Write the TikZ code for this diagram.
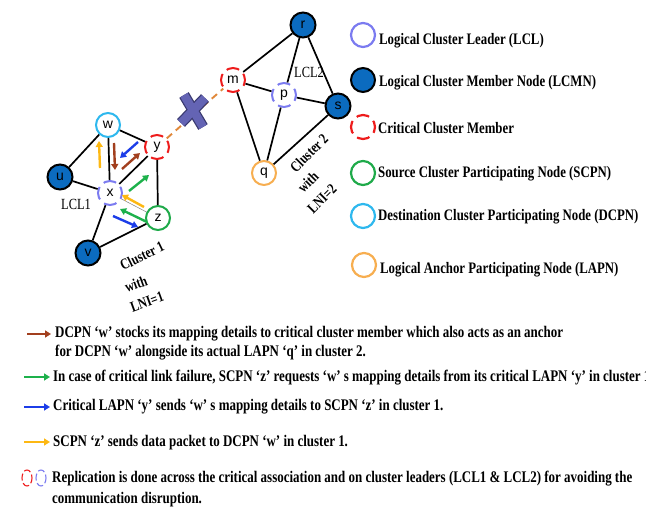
\documentclass[tikz,border=0pt]{standalone}
\usepackage{fontspec}
\setmainfont{Liberation Serif}
\newfontfamily\condb{Liberation Serif}[FakeStretch=0.8]
\newfontfamily\nodefont{Liberation Sans}
\usetikzlibrary{arrows.meta,shapes.geometric}
\definecolor{cLCL}{HTML}{7B7BF0}
\definecolor{cLCMN}{HTML}{0B6BBF}
\definecolor{cCrit}{HTML}{EE1C1C}
\definecolor{cSCPN}{HTML}{1FAA4A}
\definecolor{cDCPN}{HTML}{2EB8EE}
\definecolor{cLAPN}{HTML}{F7AE50}
\definecolor{aBrown}{HTML}{A23F1E}
\definecolor{aGreen}{HTML}{1DB14B}
\definecolor{aBlue}{HTML}{1C3DE8}
\definecolor{aYellow}{HTML}{FDB813}
\definecolor{cDash}{HTML}{E0883A}
\definecolor{xFill}{HTML}{6464B4}
\definecolor{xDark}{HTML}{3A3A70}
\tikzset{
  nd/.style={circle, minimum size=24pt, inner sep=0pt, line width=2pt, fill=white, font=\nodefont\fontsize{14}{14}\selectfont},
  lcl/.style={nd, draw=cLCL, dash pattern=on 13pt off 5.85pt, dash phase=6.5pt},
  lcmn/.style={nd, draw=black, fill=cLCMN, minimum size=25pt},
  crit/.style={nd, draw=cCrit, dash pattern=on 13pt off 5.85pt, dash phase=6.5pt},
  scpn/.style={nd, draw=cSCPN},
  dcpn/.style={nd, draw=cDCPN},
  lapn/.style={nd, draw=cLAPN},
  edge/.style={line width=1.7pt, black},
  arr/.style={line width=2.4pt, -{Triangle[length=6pt,width=7pt]}},
  lgtext/.style={anchor=west, inner sep=0pt, font=\condb\bfseries\fontsize{16}{16}\selectfont},
  bttext/.style={anchor=west, inner sep=0pt, font=\condb\bfseries\fontsize{16.2}{16.2}\selectfont},
  clab/.style={inner sep=0pt, font=\condb\bfseries\fontsize{15}{15}\selectfont},
  lcllab/.style={inner sep=0pt, font=\condb\fontsize{15.5}{15.5}\selectfont},
  repl/.style={line width=1.1pt, ellipse, minimum width=10pt, minimum height=16pt, inner sep=0pt, dash pattern=on 7pt off 2.8pt, dash phase=3.5pt},
}
\begin{document}
\begin{tikzpicture}[x=1pt, y=-1pt]
\useasboundingbox (0,0) rectangle (646,508);
% cluster 1 nodes
\node[dcpn] (w) at (108,125) {w};
\node[lcmn] (u) at (60,177) {u};
\node[crit] (y) at (157,147) {y};
\node[lcl] (x) at (110,193) {x};
\node[scpn] (z) at (158,218) {z};
\node[lcmn] (v) at (88,253) {v};
% cluster 2 nodes
\node[crit] (m) at (233,80) {m};
\node[lcmn] (r) at (303,25) {r};
\node[lcl] (p) at (284,95) {p};
\node[lcmn] (s) at (338,106) {s};
\node[lapn] (q) at (264,173) {q};
% edges cluster 1
\draw[edge] (w) -- (u);
\draw[edge] (w) -- (y);
\draw[edge] (w) -- (x);
\draw[edge] (u) -- (x);
\draw[edge] (x) -- (y);
\draw[edge] (x) -- (v);
\draw[edge] (y) -- (z);
\draw[edge] (v) -- (z);
\draw[line width=0.5pt, gray] (x) -- (z);
% edges cluster 2
\draw[edge] (m) -- (r);
\draw[edge] (m) -- (p);
\draw[edge] (m) -- (q);
\draw[edge] (r) -- (p);
\draw[edge] (r) -- (s);
\draw[edge] (p) -- (s);
\draw[edge] (p) -- (q);
\draw[edge] (q) -- (s);
% critical link
\draw[line width=1.9pt, cDash, dash pattern=on 7pt off 5pt] (y) -- (m);
% X mark
\coordinate (xa1) at (184,95);
\coordinate (xa2) at (203,127);
\coordinate (xb1) at (205,98);
\coordinate (xb2) at (181,123);
\draw[line width=11pt, xDark] (xa1) -- (xa2);
\draw[line width=11pt, xDark] (xb1) -- (xb2);
\draw[line width=8.5pt, xFill] (xa1) -- (xa2);
\draw[line width=8.5pt, xFill] (xb1) -- (xb2);
% arrows cluster 1
\coordinate (a1s) at (100,168); \coordinate (a1e) at (99,141);
\coordinate (a2s) at (114,143); \coordinate (a2e) at (115,170);
\coordinate (a3s) at (138,142); \coordinate (a3e) at (120,158);
\coordinate (a4s) at (122,169); \coordinate (a4e) at (140,153);
\coordinate (a5s) at (129,191); \coordinate (a5e) at (149,175);
\coordinate (a6s) at (144,207); \coordinate (a6e) at (122,195);
\coordinate (a7s) at (147,222); \coordinate (a7e) at (120,209);
\coordinate (a8s) at (113,216); \coordinate (a8e) at (138,227);
\draw[arr, aYellow] (a1s) -- (a1e);
\draw[arr, aBrown] (a2s) -- (a2e);
\draw[arr, aBlue] (a3s) -- (a3e);
\draw[arr, aBrown] (a4s) -- (a4e);
\draw[arr, aGreen] (a5s) -- (a5e);
\draw[arr, aYellow] (a6s) -- (a6e);
\draw[arr, aGreen] (a7s) -- (a7e);
\draw[arr, aBlue] (a8s) -- (a8e);
% labels
\node[lcllab] (l1) at (76,204) {LCL1};
\node[lcllab] (l2) at (309,72) {LCL2};
\node[clab, rotate=26] (c1a) at (142,256) {Cluster 1};
\node[clab, rotate=20] (c1b) at (136,284) {with};
\node[clab, rotate=20] (c1c) at (147,302) {LNI=1};
\node[clab, rotate=45] (c2a) at (309,153) {Cluster 2};
\node[clab, rotate=45] (c2b) at (308,182) {with};
\node[clab, rotate=45] (c2c) at (322,199) {LNI=2};
% legend
\node[nd, draw=cLCL, line width=2.2pt] (g1) at (363,35) {};
\node[lcmn, minimum size=24pt] (g2) at (363,80) {};
\node[crit, line width=2.2pt] (g3) at (363,127) {};
\node[scpn, line width=2.2pt] (g4) at (363,173) {};
\node[dcpn, line width=2.2pt] (g5) at (363,216) {};
\node[lapn, line width=2.2pt] (g6) at (364,265) {};
\node[lgtext] (t1) at (379,41) {Logical Cluster Leader (LCL)};
\node[lgtext] (t2) at (379,83) {Logical Cluster Member Node (LCMN)};
\node[lgtext] (t3) at (378,128) {Critical Cluster Member};
\node[lgtext] (t4) at (378,174) {Source Cluster Participating Node (SCPN)};
\node[lgtext] (t5) at (378,217) {Destination Cluster Participating Node (DCPN)};
\node[lgtext] (t6) at (380,270) {Logical Anchor Participating Node (LAPN)};
% bottom key
\coordinate (b1s) at (27,334); \coordinate (b1e) at (51,334);
\coordinate (b2s) at (24,377); \coordinate (b2e) at (50,377);
\coordinate (b3s) at (24,407); \coordinate (b3e) at (50,407);
\coordinate (b4s) at (24,442); \coordinate (b4e) at (50,442);
\draw[arr, aBrown] (b1s) -- (b1e);
\draw[arr, aGreen] (b2s) -- (b2e);
\draw[arr, aBlue] (b3s) -- (b3e);
\draw[arr, aYellow] (b4s) -- (b4e);
\node[bttext] (k1) at (55,334) {DCPN ‘w’ stocks its mapping details to critical cluster member which also acts as an anchor};
\node[bttext] (k1b) at (55,353) {for DCPN ‘w’ alongside its actual LAPN ‘q’ in cluster 2.};
\node[bttext] (k2) at (53,378) {In case of critical link failure, SCPN ‘z’ requests ‘w’ s mapping details from its critical LAPN ‘y’ in cluster 1};
\node[bttext] (k3) at (53,407) {Critical LAPN ‘y’ sends ‘w’ s mapping details to SCPN ‘z’ in cluster 1.};
\node[bttext] (k4) at (53,443) {SCPN ‘z’ sends data packet to DCPN ‘w’ in cluster 1.};
\node[repl, draw=cCrit] (r1) at (27,478) {};
\node[repl, draw=cLCL] (r2) at (41,478) {};
\node[bttext] (k5) at (52,479) {Replication is done across the critical association and on cluster leaders (LCL1 \& LCL2) for avoiding the};
\node[bttext] (k5b) at (52,500) {communication disruption.};
\end{tikzpicture}
\end{document}
